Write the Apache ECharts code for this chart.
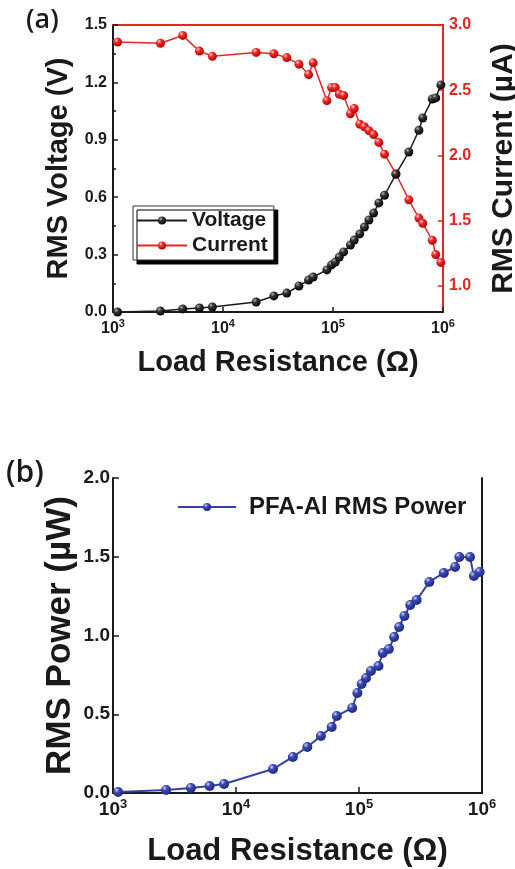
<!DOCTYPE html>
<html>
<head>
<meta charset="utf-8">
<script src="https://cdn.jsdelivr.net/npm/echarts@6/dist/echarts.min.js"></script>
<style>
  html, body { margin: 0; padding: 0; background: #fff; }
  #chart { width: 515px; height: 869px; }
</style>
</head>
<body>
<div id="chart"></div>
<script>
// load resistance (Ω), shared by both panels
const resistance = [1100, 2700, 4300, 6100, 8000, 20000, 29000, 38000, 49000, 60000, 66000,
  88000, 97000, 105000, 114000, 125000, 144000, 156000, 175000, 193000, 212000, 234000,
  261000, 294000, 373000, 489000, 604000, 654000, 799000, 859000, 956000]
// (a) RMS voltage (V)
const voltage = [0.0, 0.005, 0.016, 0.021, 0.026, 0.052, 0.084, 0.099, 0.136, 0.167, 0.183,
  0.22, 0.246, 0.261, 0.287, 0.314, 0.35, 0.376, 0.408, 0.444, 0.481, 0.517,
  0.57, 0.61, 0.72, 0.836, 0.95, 1.014, 1.113, 1.119, 1.187]
// (a) RMS current (µA)
const current = [2.87, 2.86, 2.92, 2.80, 2.76, 2.79, 2.78, 2.75, 2.70, 2.62, 2.71,
  2.42, 2.52, 2.52, 2.47, 2.46, 2.32, 2.36, 2.24, 2.22, 2.19, 2.16,
  2.10, 2.01, 1.86, 1.66, 1.52, 1.48, 1.35, 1.24, 1.18]
// (b) RMS power (µW)
const power = [0.006, 0.019, 0.032, 0.044, 0.057, 0.152, 0.229, 0.292, 0.362, 0.419, 0.489,
  0.54, 0.635, 0.692, 0.73, 0.775, 0.806, 0.889, 0.914, 0.99, 1.054, 1.124,
  1.194, 1.225, 1.34, 1.397, 1.435, 1.498, 1.498, 1.378, 1.403]
// tick labels
const currentTicks = [1.0, 1.5, 2.0, 2.5, 3.0]

const BLACK = '#1a1a1a'
const RED = '#e52521'
const BLUE = '#3441a8'
const FONT = '"Liberation Sans", Arial, sans-serif'

// shiny ball markers
const ball = (hi, mid, dark) => ({
  type: 'radial', x: 0.35, y: 0.3, r: 0.75,
  colorStops: [
    { offset: 0, color: hi },
    { offset: 0.35, color: mid },
    { offset: 1, color: dark }
  ]
})

const pairs = (ys) => resistance.map((r, i) => [r, ys[i]])
const powLabel = (v) => '{n|10}{s|' + Math.round(Math.log10(v)) + '}'
const powRich = (size) => ({
  n: { fontSize: size, fontWeight: 'bold', color: BLACK, fontFamily: FONT },
  s: { fontSize: Math.round(size * 0.68), fontWeight: 'bold', color: BLACK, fontFamily: FONT, padding: [0, 0, Math.round(size * 0.6), 0] }
})

const logX = (gridIndex, extra) => Object.assign({
  type: 'log',
  gridIndex,
  min: 1000,
  max: 1000000,
  logBase: 10,
  splitLine: { show: false }
}, extra)

const chart = echarts.init(document.getElementById('chart'))

const option = {
  animation: false,
  textStyle: { fontFamily: FONT },
  graphic: [
    { type: 'text', left: 26, top: 7, style: { text: '(a)', fontSize: 27, fontWeight: 600, fontFamily: '"Open Sans", sans-serif', fill: BLACK } },
    { type: 'text', left: 6, top: 458, style: { text: '(b)', fontSize: 30, fontWeight: 600, fontFamily: '"Open Sans", sans-serif', fill: BLACK } }
  ],
  grid: [
    { left: 113, top: 25, width: 330, height: 287, outerBoundsMode: 'none' },
    { left: 113, top: 478, width: 369, height: 315, outerBoundsMode: 'none' }
  ],
  legend: [
    {
      data: ['Voltage', 'Current'],
      orient: 'vertical',
      left: 133,
      top: 206,
      itemWidth: 50,
      itemHeight: 10,
      itemGap: 4,
      padding: [4, 6, 4, 3],
      backgroundColor: '#fff',
      borderColor: '#333',
      borderWidth: 1,
      shadowColor: '#000',
      shadowBlur: 0,
      shadowOffsetX: 4,
      shadowOffsetY: 4,
      textStyle: { fontSize: 21, fontWeight: 'bold', color: BLACK, fontFamily: FONT }
    },
    {
      data: ['PFA-Al RMS Power'],
      left: 172,
      top: 490,
      itemWidth: 58,
      itemHeight: 10,
      textStyle: { fontSize: 24, fontWeight: 'bold', color: BLACK, fontFamily: FONT, padding: [0, 0, 0, 8] }
    }
  ],
  xAxis: [
    logX(0, {
      position: 'bottom',
      name: 'Load Resistance (Ω)',
      nameLocation: 'middle',
      nameGap: 36,
      nameTextStyle: { fontSize: 29, fontWeight: 'bold', color: BLACK },
      axisLine: { lineStyle: { color: BLACK, width: 2 } },
      axisTick: { inside: true, length: 5, lineStyle: { width: 1.5 } },
      axisLabel: { formatter: powLabel, rich: powRich(16), margin: 6 }
    }),
    logX(0, {
      position: 'top',
      axisLine: { lineStyle: { color: RED, width: 2 } },
      axisTick: { show: false },
      axisLabel: { show: false }
    }),
    logX(1, {
      position: 'bottom',
      name: 'Load Resistance (Ω)',
      nameLocation: 'middle',
      nameGap: 43,
      nameTextStyle: { fontSize: 31, fontWeight: 'bold', color: BLACK },
      axisLine: { lineStyle: { color: BLACK, width: 2 } },
      axisTick: { inside: true, length: 6, lineStyle: { width: 1.5 } },
      axisLabel: { formatter: powLabel, rich: powRich(19), margin: 5 }
    }),
    logX(1, {
      position: 'top',
      axisLine: { lineStyle: { color: BLACK, width: 2 } },
      axisTick: { show: false },
      axisLabel: { show: false }
    })
  ],
  yAxis: [
    {
      type: 'value',
      gridIndex: 0,
      position: 'left',
      min: 0,
      max: 1.5,
      interval: 0.3,
      name: 'RMS Voltage (V)',
      nameLocation: 'middle',
      nameRotate: 90,
      nameGap: 36,
      nameTextStyle: { fontSize: 29, fontWeight: 'bold', color: BLACK },
      splitLine: { show: false },
      axisLine: { show: true, lineStyle: { color: BLACK, width: 2 } },
      axisTick: { show: true, inside: true, length: 5, lineStyle: { width: 1.5 } },
      minorTick: { show: true, splitNumber: 2, length: 3, lineStyle: { color: BLACK, width: 1.5 } },
      axisLabel: { formatter: (v) => v.toFixed(1), fontSize: 16, fontWeight: 'bold', color: BLACK, margin: 6 }
    },
    {
      type: 'value',
      gridIndex: 0,
      position: 'right',
      min: 0.8,
      max: 3.0,
      name: 'RMS Current (µA)',
      nameLocation: 'middle',
      nameRotate: 90,
      nameGap: 46,
      nameTextStyle: { fontSize: 30, fontWeight: 'bold', color: BLACK },
      splitLine: { show: false },
      axisLine: { show: true, lineStyle: { color: RED, width: 2 } },
      axisTick: { show: true, inside: true, length: 5, customValues: currentTicks, lineStyle: { width: 1.5 } },
      axisLabel: { customValues: currentTicks, formatter: (v) => v.toFixed(1), fontSize: 16, fontWeight: 'bold', color: RED, margin: 6 }
    },
    {
      type: 'value',
      gridIndex: 1,
      position: 'left',
      min: 0,
      max: 2.0,
      interval: 0.5,
      name: 'RMS Power (µW)',
      nameLocation: 'middle',
      nameRotate: 90,
      nameGap: 35,
      nameMoveOverlap: false,
      nameTextStyle: { fontSize: 35, fontWeight: 'bold', color: BLACK },
      splitLine: { show: false },
      axisLine: { show: true, lineStyle: { color: BLACK, width: 2 } },
      axisTick: { show: true, inside: true, length: 6, lineStyle: { width: 1.5 } },
      axisLabel: { formatter: (v) => v.toFixed(1), fontSize: 19, fontWeight: 'bold', color: BLACK, margin: 3 }
    },
    {
      type: 'value',
      gridIndex: 1,
      position: 'right',
      min: 0,
      max: 2.0,
      interval: 0.5,
      splitLine: { show: false },
      axisLine: { show: true, lineStyle: { color: BLACK, width: 2 } },
      axisTick: { show: false },
      axisLabel: { show: false }
    }
  ],
  series: [
    {
      name: 'Voltage',
      type: 'line',
      xAxisIndex: 0,
      yAxisIndex: 0,
      data: pairs(voltage),
      symbol: 'circle',
      symbolSize: 9,
      lineStyle: { color: BLACK, width: 1.5 },
      itemStyle: { color: ball('#b0b0b0', '#333', '#000') },
      z: 3
    },
    {
      name: 'Current',
      type: 'line',
      xAxisIndex: 0,
      yAxisIndex: 1,
      data: pairs(current),
      symbol: 'circle',
      symbolSize: 9,
      lineStyle: { color: RED, width: 1.5 },
      itemStyle: { color: ball('#ffd6d6', '#ee2a2a', '#b00000') },
      z: 2
    },
    {
      name: 'PFA-Al RMS Power',
      type: 'line',
      xAxisIndex: 2,
      yAxisIndex: 2,
      data: pairs(power),
      symbol: 'circle',
      symbolSize: 10,
      lineStyle: { color: BLUE, width: 2 },
      itemStyle: { color: ball('#d0d4f8', '#3a48b0', '#1d2680') }
    }
  ]
}

chart.setOption(option)
</script>
</body>
</html>
